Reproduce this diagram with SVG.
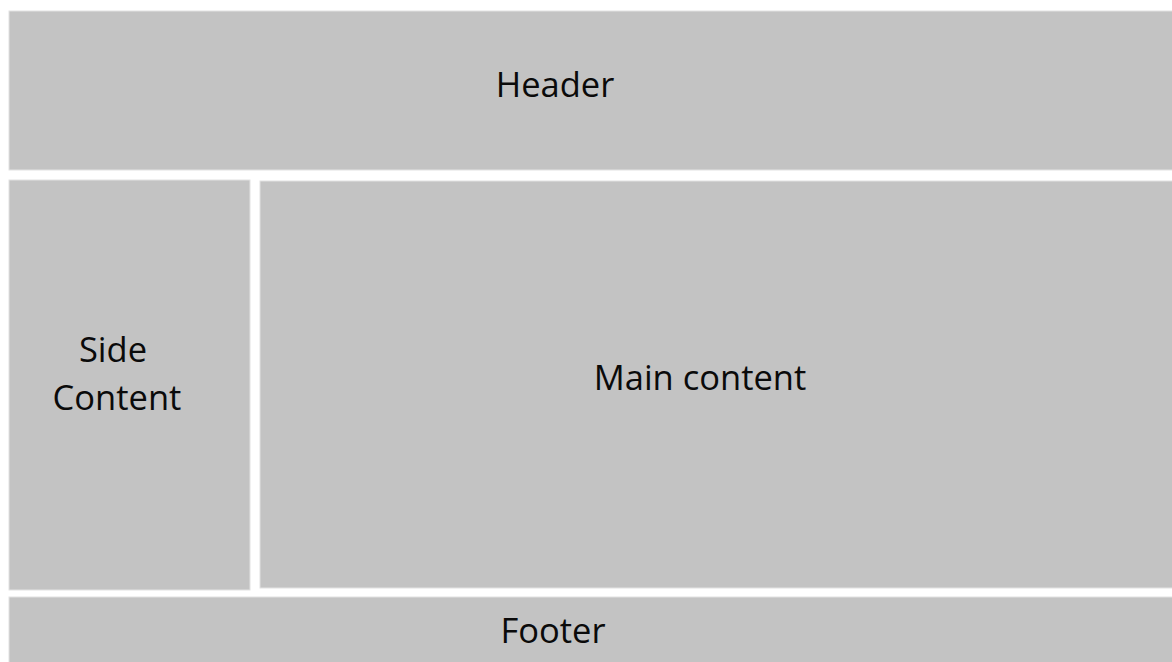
<svg xmlns="http://www.w3.org/2000/svg" width="1172" height="662" viewBox="0 0 1172 662">
<style>
.box{fill:#c3c3c3;stroke:#e2e2e2;stroke-width:1}
.t{font-family:"Open Sans","Liberation Sans",sans-serif;font-size:34.5px;fill:#0a0a0a;text-anchor:middle}
</style>
<rect width="1172" height="662" fill="#ffffff"/>
<g id="header"><rect class="box" x="9" y="11" width="1170" height="159"/><text class="t" x="555" y="97">Header</text></g>
<g id="side"><rect class="box" x="9" y="180" width="241" height="410"/><text class="t" x="113" y="362">Side</text><text class="t" x="117" y="410">Content</text></g>
<g id="main"><rect class="box" x="260" y="181" width="920" height="407"/><text class="t" x="700" y="390">Main content</text></g>
<g id="footer"><rect class="box" x="9" y="597" width="1170" height="70"/><text class="t" x="553" y="643">Footer</text></g>
<g id="connectors"/>
</svg>
